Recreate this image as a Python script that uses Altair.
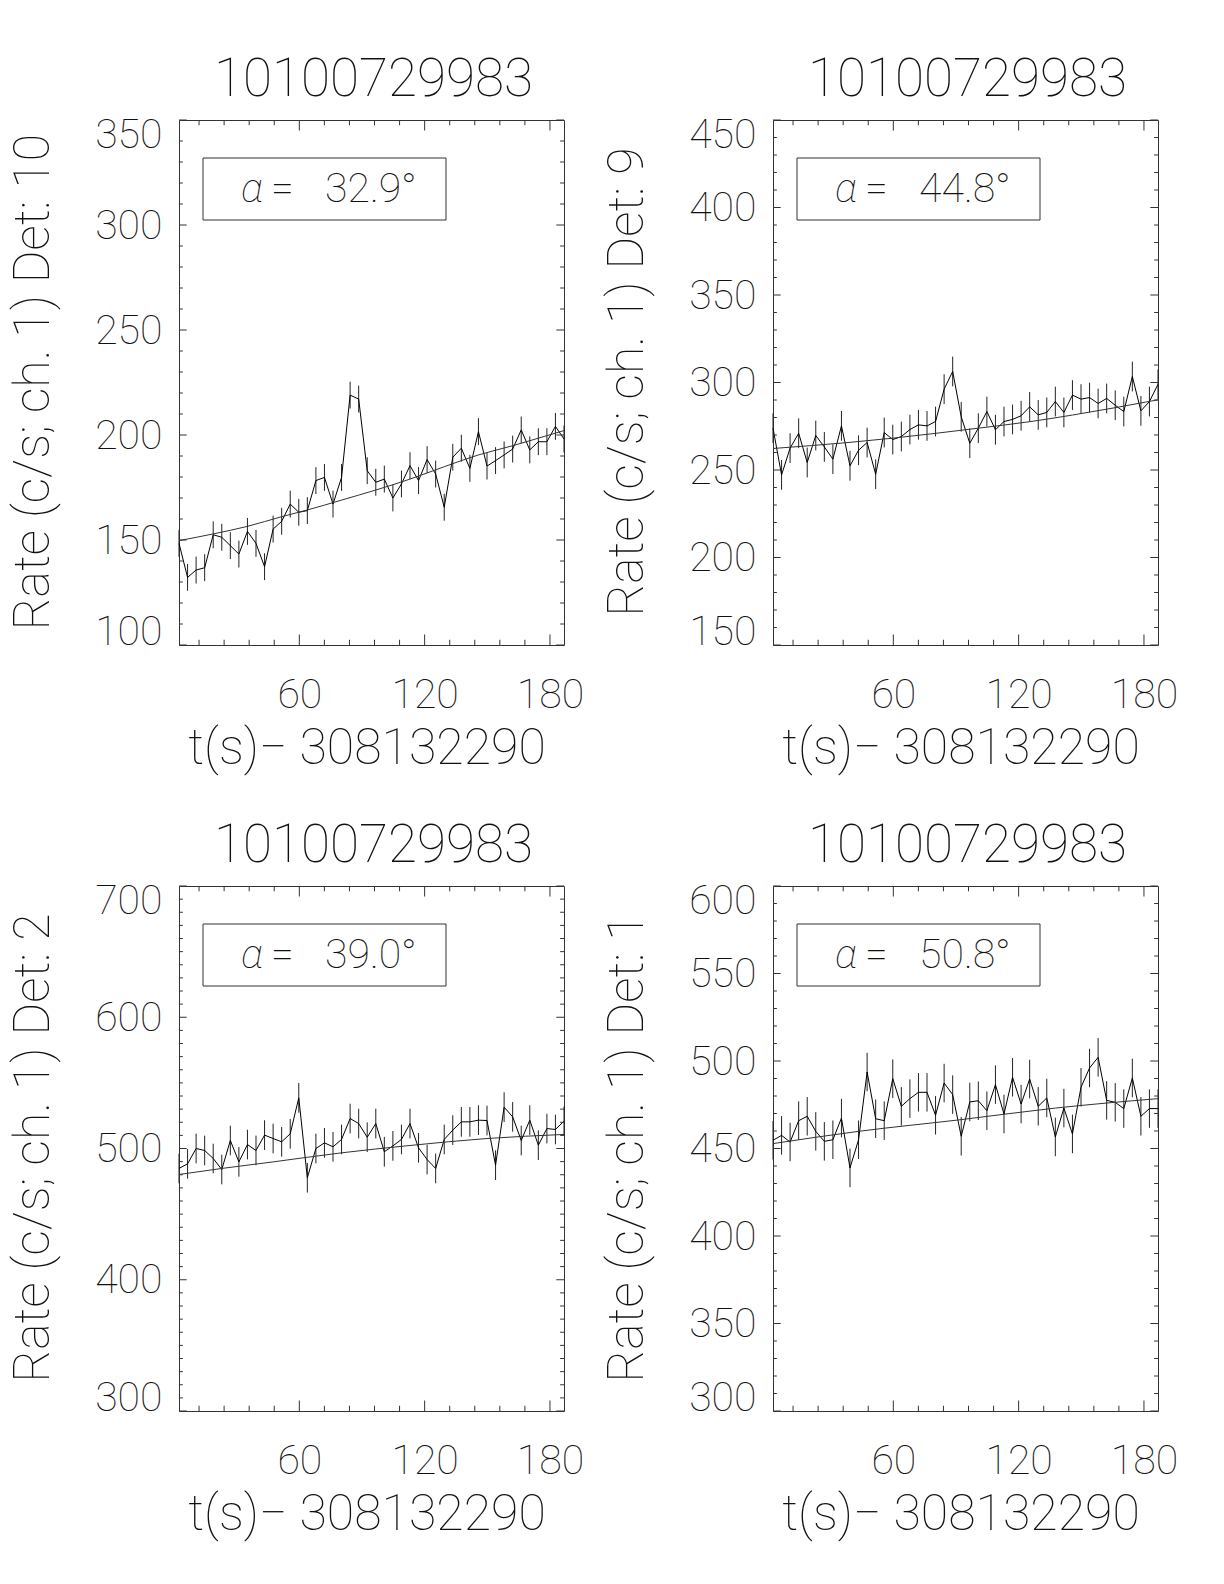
import altair as alt
import pandas as pd

TITLE = "10100729983"
X_TITLE = "t(s)\u2212 308132290"
DETS = ["10", "9", "2", "1"]
ALPHAS = ["32.9\u00b0", "44.8\u00b0", "39.0\u00b0", "50.8\u00b0"]
FONT, FW = "Roboto", 100

# bin centre times (s) — 4.096 s bins
TIMES = [2.40, 6.50, 10.59, 14.69, 18.78, 22.88, 26.98, 31.07, 35.17, 39.26,
         43.36, 47.46, 51.55, 55.65, 59.74, 63.84, 67.94, 72.03, 76.13, 80.22,
         84.32, 88.42, 92.51, 96.61, 100.70, 104.80, 108.90, 112.99, 117.09, 121.18,
         125.28, 129.38, 133.47, 137.57, 141.66, 145.76, 149.86, 153.95, 158.05, 162.14,
         166.24, 170.34, 174.43, 178.53, 182.62, 186.72]

RATE_D10 = [148.4, 132.2, 135.7, 136.8, 152.5, 151.3, 147.3, 143.3, 154.1, 148.4,
            137.3, 155.2, 158.9, 167.1, 163.2, 164.0, 178.3, 179.8, 167.1, 179.8,
            219.0, 217.1, 183.0, 177.5, 179.0, 170.0, 176.7, 185.4, 178.3, 188.3,
            181.4, 165.6, 189.4, 193.7, 184.1, 201.6, 185.2, 187.8, 190.5, 193.3,
            202.4, 192.9, 196.8, 196.8, 204.1, 198.1]
RATE_D9 = [273.9, 247.2, 262.5, 271.0, 254.3, 269.7, 263.2, 256.2, 275.2, 252.4,
           261.3, 265.7, 247.6, 271.4, 267.4, 269.1, 273.1, 275.8, 275.2, 277.7,
           296.2, 306.3, 280.4, 265.3, 273.9, 283.4, 273.0, 277.7, 278.9, 281.0,
           286.1, 281.5, 282.9, 289.1, 282.9, 292.8, 290.5, 291.4, 288.0, 290.9,
           287.0, 283.4, 303.4, 283.8, 289.1, 299.0]
RATE_D2 = [484.8, 488.3, 500.0, 498.5, 492.4, 484.0, 506.1, 489.8, 503.0, 498.5,
           510.2, 507.6, 505.1, 511.2, 538.6, 477.7, 500.0, 504.3, 501.3, 506.9,
           522.8, 519.0, 508.6, 519.0, 497.5, 502.0, 506.9, 519.0, 500.5, 491.6,
           484.8, 506.9, 514.0, 520.3, 520.3, 521.6, 521.3, 487.3, 531.5, 524.1,
           506.1, 521.6, 502.5, 515.2, 514.5, 520.8]
RATE_D1 = [454.7, 457.5, 453.7, 465.9, 468.4, 459.8, 454.1, 455.0, 467.4, 438.9,
           455.0, 493.7, 467.0, 465.9, 489.9, 474.1, 478.5, 482.1, 482.1, 469.0,
           487.4, 480.8, 457.0, 476.6, 477.3, 471.6, 486.5, 469.7, 490.7, 475.4,
           489.7, 474.1, 478.9, 456.6, 473.1, 458.3, 485.0, 496.0, 502.1, 477.5,
           476.4, 472.8, 490.3, 468.4, 472.8, 472.8]
RATES = [RATE_D10, RATE_D9, RATE_D2, RATE_D1]
ERRS = [6.4, 8.5, 11.3, 11.0]

# background fit read at selected bins
FIT_IDX = [[0, 4, 8, 12, 15, 19, 23, 27, 31, 35, 39, 43, 45],
           [0, 9, 14, 24, 30, 35, 45],
           [0, 5, 11, 19, 27, 36, 45],
           [0, 10, 22, 33, 45]]
FIT_VAL = [[149.7, 152.9, 156.5, 161.1, 164.3, 169.0, 173.8, 179.0, 184.9, 190.5, 194.9, 199.7, 202.1],
           [262.3, 265.8, 268.2, 273.9, 277.6, 281.4, 290.1],
           [480.2, 484.8, 489.8, 496.7, 502.3, 507.6, 510.7],
           [452.8, 459.8, 466.5, 473.1, 478.5]]

Y_DOM = [[100, 350], [150, 450], [300, 700], [300, 600]]
Y_MAJOR_STEP = [50, 50, 100, 50]
Y_MINOR_STEP = [10, 10, 10, 10]
X_MAJOR = [60, 120, 180]
X_MINOR = [12, 24, 36, 48, 72, 84, 96, 108, 132, 144, 156, 168]

W, H = 385, 525
TXT = "#111"
LBL = 41


def panel(k):
    lo_d, hi_d = Y_DOM[k]
    y_major = list(range(lo_d, hi_d + 1, Y_MAJOR_STEP[k]))
    y_minor = [v for v in range(lo_d, hi_d + 1, Y_MINOR_STEP[k]) if v not in y_major]
    xs = alt.Scale(domain=[TIMES[0], TIMES[-1]], nice=False, zero=False)
    ys = alt.Scale(domain=[lo_d, hi_d], nice=False, zero=False)
    xaxis = alt.Axis(values=X_MAJOR, ticks=False, domain=False, grid=False,
                     labelFont=FONT, labelFontSize=LBL, labelFontWeight=FW,
                     labelColor=TXT, labelPadding=62, labelBaseline="alphabetic",
                     labelFlush=False, title=None)
    yaxis = alt.Axis(values=y_major, ticks=False, domain=False, grid=False,
                     labelFont=FONT, labelFontSize=LBL, labelFontWeight=FW,
                     labelColor=TXT, labelPadding=17, labelBaseline="middle",
                     labelFlush=False,
                     labelOffset={"condition": [
                         {"test": f"datum.value == {hi_d}", "value": 15},
                         {"test": f"datum.value == {lo_d}", "value": -13}],
                         "value": 1},
                     title=None)
    X = lambda f: alt.X(f, type="quantitative", scale=xs, axis=xaxis)
    Y = lambda f: alt.Y(f, type="quantitative", scale=ys, axis=yaxis)

    e = ERRS[k]
    df = pd.DataFrame({"t": TIMES, "v": RATES[k]})
    df["lo"] = df["v"] - e
    df["hi"] = df["v"] + e
    fit = pd.DataFrame({"t": [TIMES[i] for i in FIT_IDX[k]], "v": FIT_VAL[k]})

    layers = []
    layers.append(alt.Chart(df).mark_rule(color="#222", strokeWidth=1).encode(
        x=X("t"), y=Y("lo"), y2="hi"))
    layers.append(alt.Chart(df).mark_line(color="#000", strokeWidth=1).encode(
        x=X("t"), y=Y("v")))
    layers.append(alt.Chart(fit).mark_line(color="#333", strokeWidth=1,
                                           interpolate="monotone").encode(
        x=X("t"), y=Y("v")))

    xmaj = pd.DataFrame({"t": X_MAJOR})
    xmin = pd.DataFrame({"t": X_MINOR})
    for d, ln in ((xmaj, 10.5), (xmin, 5.25)):
        layers.append(alt.Chart(d).mark_rule(color="#333", strokeWidth=1).encode(
            x=X("t"), y=alt.value(H), y2=alt.value(H - ln)))
        layers.append(alt.Chart(d).mark_rule(color="#333", strokeWidth=1).encode(
            x=X("t"), y=alt.value(0), y2=alt.value(ln)))
    ymaj = pd.DataFrame({"v": y_major})
    ymin = pd.DataFrame({"v": y_minor})
    for d, ln in ((ymaj, 7.7), (ymin, 3.85)):
        layers.append(alt.Chart(d).mark_rule(color="#333", strokeWidth=1).encode(
            y=Y("v"), x=alt.value(0), x2=alt.value(ln)))
        layers.append(alt.Chart(d).mark_rule(color="#333", strokeWidth=1).encode(
            y=Y("v"), x=alt.value(W), x2=alt.value(W - ln)))

    one = pd.DataFrame({"a": ["\u03b1"], "eq": ["="], "n": [ALPHAS[k]],
                        "ttl": [TITLE], "xt": [X_TITLE],
                        "yt": [f"Rate (c/s; ch. 1) Det: {DETS[k]}"]})
    txt = dict(font=FONT, fontWeight=FW, color=TXT, baseline="alphabetic")
    layers.append(alt.Chart(one).mark_rect(fillOpacity=0, stroke="#333",
                                           strokeWidth=1).encode(
        x=alt.value(24), x2=alt.value(267), y=alt.value(38), y2=alt.value(100)))
    layers.append(alt.Chart(one).mark_text(fontSize=LBL, fontStyle="italic",
                                           align="left", **txt).encode(
        x=alt.value(62), y=alt.value(82), text="a:N"))
    layers.append(alt.Chart(one).mark_text(fontSize=LBL, align="left", **txt).encode(
        x=alt.value(92), y=alt.value(82), text="eq:N"))
    layers.append(alt.Chart(one).mark_text(fontSize=LBL, align="left", **txt).encode(
        x=alt.value(146), y=alt.value(82), text="n:N"))
    # panel title and axis titles
    layers.append(alt.Chart(one).mark_text(fontSize=53, align="center", **txt).encode(
        x=alt.value(W / 2 + 2), y=alt.value(-24), text="ttl:N"))
    layers.append(alt.Chart(one).mark_text(fontSize=50, align="center", **txt).encode(
        x=alt.value(188), y=alt.value(H + 119), text="xt:N"))
    layers.append(alt.Chart(one).mark_text(fontSize=50, align="center", angle=270,
                                           **txt).encode(
        x=alt.value(-130), y=alt.value(262), text="yt:N"))

    return alt.layer(*layers).properties(width=W, height=H)


chart = alt.concat(panel(0), panel(1), panel(2), panel(3), columns=2,
                   spacing={"row": 241, "column": 209}, bounds="flush").properties(
    padding={"left": 0, "top": 45, "right": 5, "bottom": 5},
    background="white",
).configure_view(stroke="#333", strokeWidth=1)

chart.save("out.html", embed_options={"renderer": "svg", "actions": False})
